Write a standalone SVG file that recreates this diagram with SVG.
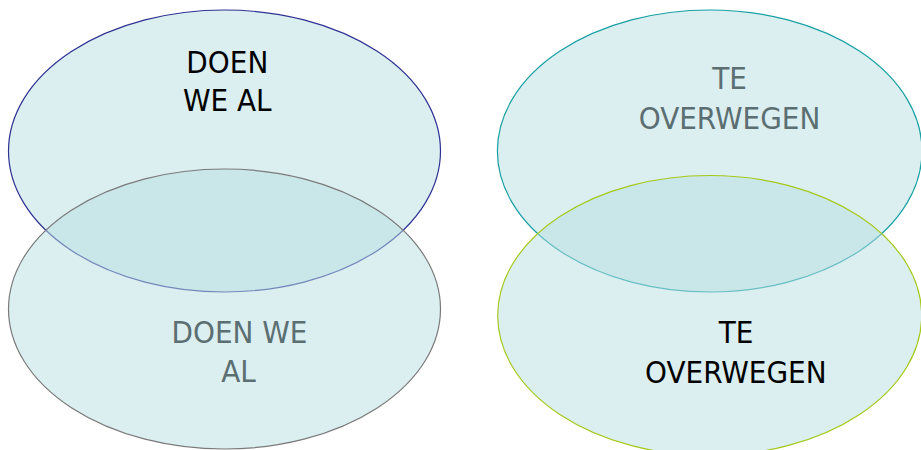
<svg xmlns="http://www.w3.org/2000/svg" width="921" height="450" viewBox="0 0 921 450">
<style>
.e{fill:#b7dde2;fill-opacity:0.5;stroke-width:1.2}
.t{font-family:"DejaVu Sans Condensed","DejaVu Sans",sans-serif;font-size:31px;text-anchor:middle}
.dark{fill:#000000}
.grey{fill:#5b6e72}
</style>
<rect width="921" height="450" fill="#ffffff"/>
<g id="left-top">
<ellipse class="e" cx="224.5" cy="151" rx="216" ry="141" stroke="#2e3192"/>
</g>
<g id="left-bottom">
<ellipse class="e" cx="224.5" cy="309" rx="216" ry="140" stroke="#7a7a7a"/>
</g>
<g id="right-top">
<ellipse class="e" cx="709.7" cy="151" rx="212.3" ry="141" stroke="#17a0a3"/>
</g>
<g id="right-bottom">
<ellipse class="e" cx="709.7" cy="315.5" rx="212" ry="140" stroke="#a5c91b"/>
</g>
<g id="labels">
<text class="t dark" x="227.3" y="72.7">DOEN</text>
<text class="t dark" x="227.3" y="110.7">WE AL</text>
<text class="t grey" x="239.5" y="343.3">DOEN WE</text>
<text class="t grey" x="238.5" y="382.3">AL</text>
<text class="t grey" x="729.5" y="89.3">TE</text>
<text class="t grey" x="729.5" y="129">OVERWEGEN</text>
<text class="t dark" x="736" y="343.3">TE</text>
<text class="t dark" x="735.8" y="382.7">OVERWEGEN</text>
</g>
<g id="connectors"/>
</svg>
